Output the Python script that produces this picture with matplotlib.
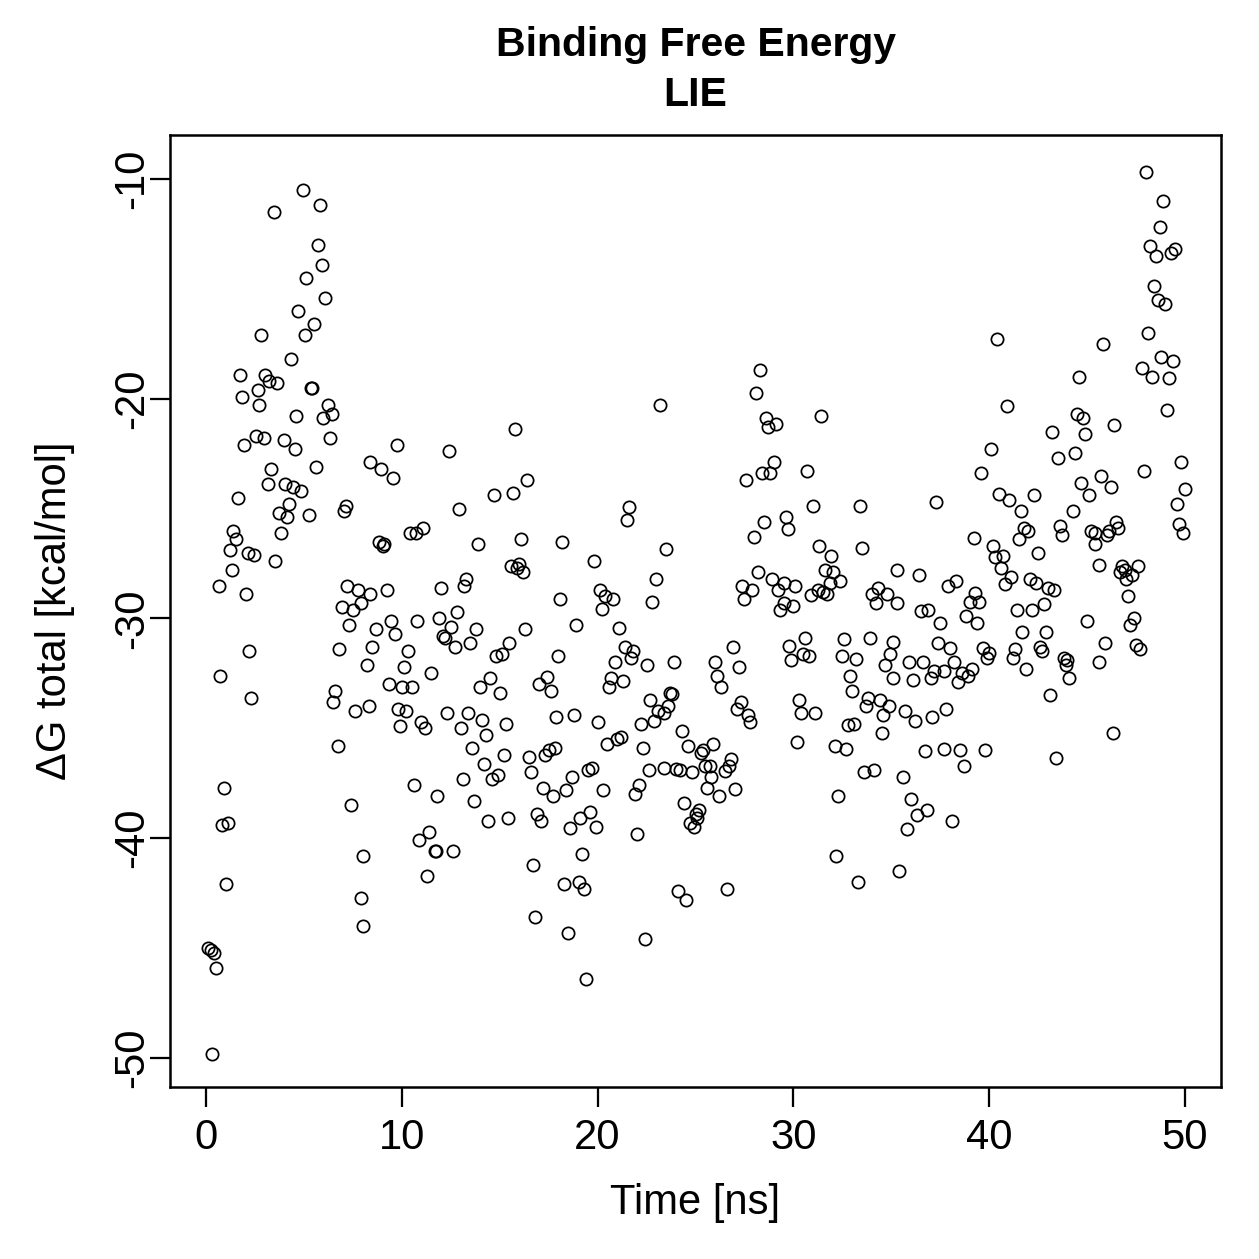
import matplotlib
matplotlib.use("Agg")
import matplotlib.pyplot as plt

plt.rcParams['font.family'] = ['Liberation Sans', 'DejaVu Sans']

# (time [ns], dG total [kcal/mol]), grouped by time window
pts_0_8 = [
    (0.12, -45.0), (0.24, -45.1), (0.42, -45.2), (0.53, -45.9), (0.32, -49.8),
    (0.65, -28.5), (0.70, -32.6), (0.94, -37.7), (0.83, -39.4), (1.14, -39.3),
    (1.02, -42.1), (2.20, -31.5), (2.30, -33.6), (6.80, -31.4), (6.60, -33.3),
    (6.50, -33.8), (7.60, -34.2), (6.74, -35.8), (7.40, -38.5), (8.00, -40.8),
    (7.90, -42.7), (8.00, -44.0), (6.94, -29.5), (7.50, -29.6), (7.90, -29.3),
    (7.30, -30.3), (8.20, -32.1), (4.93, -10.5), (5.83, -11.2), (3.45, -11.5),
    (5.73, -13.0), (5.94, -13.9), (5.12, -14.5), (6.10, -15.4), (4.72, -16.0),
    (5.53, -16.6), (5.03, -17.1), (2.81, -17.1), (4.33, -18.2), (1.74, -18.9),
    (3.02, -18.9), (3.24, -19.2), (3.65, -19.3), (5.36, -19.5), (5.40, -19.5),
    (2.64, -19.6), (1.83, -19.9), (2.73, -20.3), (6.24, -20.3), (6.45, -20.7),
    (6.00, -20.9), (4.62, -20.8), (6.35, -21.8), (1.94, -22.1), (2.54, -21.7),
    (2.97, -21.8), (3.96, -21.9), (4.54, -22.3), (3.34, -23.2), (5.63, -23.1),
    (3.14, -23.9), (4.04, -23.9), (4.44, -24.0), (4.85, -24.2), (1.64, -24.5),
    (4.23, -24.8), (3.74, -25.2), (4.13, -25.4), (5.24, -25.3), (7.03, -25.1),
    (7.13, -24.9), (3.84, -26.1), (1.40, -26.0), (1.54, -26.4), (1.23, -26.9),
    (2.12, -27.0), (2.47, -27.1), (3.53, -27.4), (1.33, -27.8), (2.03, -28.9),
    (7.22, -28.5), (7.76, -28.7), (8.40, -28.9),
]

pts_8_17 = [
    (8.4, -22.9), (15.8, -21.4), (9.74, -22.1), (12.4, -22.4), (8.94, -23.2),
    (9.53, -23.6), (16.4, -23.7), (14.7, -24.4), (15.7, -24.3), (12.9, -25.0),
    (10.4, -26.1), (10.7, -26.1), (11.1, -25.9), (8.85, -26.5), (9.07, -26.6),
    (9.02, -26.7), (13.9, -26.6), (16.1, -26.4), (15.6, -27.6), (15.9, -27.7),
    (16.0, -27.5), (16.2, -27.9), (13.3, -28.2), (13.2, -28.5), (12.0, -28.6),
    (9.23, -28.7), (12.8, -29.7), (9.45, -30.1), (8.7, -30.5), (9.64, -30.7),
    (10.8, -30.1), (11.9, -30.0), (12.5, -30.4), (13.8, -30.5), (16.3, -30.5),
    (12.1, -30.8), (12.2, -30.9), (12.7, -31.3), (13.5, -31.1), (15.5, -31.1),
    (14.8, -31.7), (15.1, -31.6), (8.5, -31.3), (10.3, -31.5), (10.1, -32.2),
    (11.5, -32.5), (14.5, -32.7), (9.33, -33.0), (10.0, -33.1), (10.5, -33.1),
    (14.0, -33.1), (15.0, -33.4), (17.0, -33.0), (8.34, -34.0), (9.8, -34.1),
    (10.2, -34.2), (9.9, -34.9), (11.0, -34.7), (11.2, -35.0), (12.3, -34.3),
    (13.4, -34.3), (14.1, -34.6), (13.0, -35.0), (14.3, -35.3), (15.3, -34.8),
    (13.6, -35.9), (15.2, -36.2), (14.2, -36.6), (14.9, -37.1), (14.6, -37.3),
    (16.5, -36.3), (16.6, -37.0), (13.1, -37.3), (10.6, -37.6), (11.8, -38.1),
    (13.7, -38.3), (14.4, -39.2), (15.4, -39.1), (16.9, -38.9), (17.1, -39.2),
    (11.4, -39.7), (10.9, -40.1), (11.67, -40.6), (11.75, -40.6), (12.6, -40.6),
    (11.3, -41.7), (16.7, -41.2), (16.8, -43.6),
]

pts_17_26 = [
    (23.2, -20.3), (21.6, -24.95), (21.5, -25.5), (18.2, -26.5), (23.5, -26.85),
    (19.8, -27.4), (23.0, -28.2), (18.1, -29.1), (20.1, -28.7), (20.4, -29.0),
    (20.8, -29.1), (20.2, -29.55), (22.8, -29.25), (18.9, -30.3), (21.1, -30.45),
    (18.0, -31.7), (21.4, -31.3), (21.8, -31.5), (21.7, -31.8), (20.9, -32.0),
    (22.5, -32.1), (23.9, -32.0), (26.0, -32.0), (26.1, -32.6), (17.4, -32.65),
    (20.7, -32.7), (21.3, -32.85), (17.6, -33.3), (20.6, -33.1), (26.3, -33.1),
    (22.7, -33.7), (23.7, -33.4), (23.8, -33.45), (23.6, -34.0), (23.1, -34.2),
    (23.4, -34.3), (22.9, -34.65), (22.2, -34.8), (17.9, -34.5), (18.8, -34.4),
    (20.0, -34.7), (24.3, -35.1), (20.5, -35.7), (21.0, -35.5), (21.2, -35.4),
    (22.3, -35.9), (24.6, -35.8), (25.9, -35.7), (25.3, -36.1), (25.4, -36.0),
    (17.3, -36.2), (17.5, -36.0), (17.8, -35.9), (19.5, -36.9), (19.7, -36.8),
    (18.7, -37.2), (22.6, -36.9), (23.4, -36.8), (24.0, -36.85), (24.2, -36.9),
    (24.8, -37.0), (25.5, -36.7), (25.75, -36.7), (25.8, -37.2), (17.2, -37.7),
    (17.7, -38.1), (18.4, -37.8), (20.3, -37.8), (22.1, -37.6), (21.9, -38.0),
    (25.6, -37.7), (26.2, -38.1), (24.4, -38.4), (25.2, -38.7), (25.0, -38.9),
    (25.1, -39.1), (24.7, -39.3), (24.9, -39.5), (19.6, -38.8), (19.1, -39.1),
    (18.6, -39.55), (19.9, -39.5), (22.0, -39.8), (19.2, -40.7), (18.3, -42.1),
    (19.05, -42.0), (19.3, -42.3), (24.1, -42.4), (24.5, -42.8), (18.5, -44.3),
    (22.4, -44.6), (19.4, -46.4),
]

pts_26_35 = [
    (28.3, -18.7), (28.1, -19.75), (31.4, -20.8), (28.6, -20.9), (28.7, -21.3),
    (29.1, -21.15), (30.7, -23.3), (29.0, -22.9), (28.4, -23.4), (28.8, -23.4),
    (27.6, -23.7), (31.0, -24.9), (33.4, -24.9), (28.5, -25.6), (29.6, -25.4),
    (29.7, -25.95), (28.0, -26.3), (31.3, -26.7), (31.9, -27.15), (33.5, -26.8),
    (28.2, -27.9), (28.9, -28.2), (29.5, -28.4), (29.2, -28.7), (30.1, -28.5),
    (27.4, -28.5), (27.9, -28.7), (27.5, -29.1), (31.6, -27.8), (32.0, -27.9),
    (32.4, -28.3), (31.85, -28.4), (31.25, -28.7), (31.5, -28.8), (30.9, -28.95),
    (31.7, -28.9), (29.5, -29.3), (29.3, -29.6), (30.0, -29.45), (35.3, -27.8),
    (34.0, -28.9), (34.3, -28.6), (34.2, -29.3), (34.8, -28.9), (35.3, -29.3),
    (26.9, -31.3), (27.2, -32.2), (29.8, -31.25), (30.6, -30.9), (30.5, -31.6),
    (30.8, -31.7), (29.9, -31.9), (32.6, -30.95), (33.9, -30.9), (32.5, -31.7),
    (33.2, -31.85), (32.9, -32.6), (35.1, -31.05), (34.95, -31.6), (34.7, -32.1),
    (27.3, -33.8), (27.1, -34.1), (27.7, -34.4), (27.8, -34.7), (30.3, -33.7),
    (30.4, -34.3), (31.1, -34.3), (35.1, -32.7), (33.0, -33.3), (33.8, -33.6),
    (33.7, -34.0), (34.4, -33.7), (34.9, -34.0), (34.6, -34.4), (32.8, -34.85),
    (33.1, -34.8), (34.5, -35.2), (30.2, -35.6), (32.1, -35.8), (32.7, -35.95),
    (26.8, -36.4), (26.7, -36.7), (26.5, -36.95), (27.0, -37.75), (33.6, -37.0),
    (34.1, -36.9), (32.3, -38.1), (32.2, -40.8), (33.3, -42.0), (26.6, -42.3),
    (35.4, -41.5),
]

pts_35_44 = [
    (40.4, -17.3), (40.9, -20.35), (43.2, -21.5), (43.5, -22.7), (44.4, -22.45),
    (40.1, -22.3), (39.6, -23.4), (37.3, -24.7), (40.5, -24.35), (41.0, -24.6),
    (41.6, -25.1), (42.3, -24.4), (44.3, -25.1), (41.8, -25.9), (42.0, -26.0),
    (41.5, -26.4), (43.6, -25.8), (43.7, -26.2), (39.2, -26.35), (40.2, -26.7),
    (40.7, -27.15), (40.3, -27.2), (42.5, -27.0), (40.6, -27.7), (41.1, -28.1),
    (40.8, -28.45), (42.1, -28.2), (42.4, -28.4), (43.0, -28.6), (43.3, -28.7),
    (36.4, -28.0), (37.9, -28.5), (38.3, -28.3), (39.3, -28.85), (39.0, -29.25),
    (39.5, -29.25), (36.5, -29.65), (36.9, -29.6), (37.5, -30.2), (38.8, -29.9),
    (39.4, -30.2), (41.4, -29.6), (42.2, -29.6), (42.8, -29.35), (41.7, -30.6),
    (42.9, -30.6), (37.4, -31.1), (38.0, -31.35), (38.2, -32.0), (35.9, -32.0),
    (36.6, -32.0), (37.2, -32.4), (37.7, -32.4), (39.7, -31.35), (40.0, -31.55),
    (39.9, -31.8), (41.3, -31.4), (41.2, -31.8), (42.6, -31.3), (42.7, -31.5),
    (43.8, -31.8), (43.95, -31.9), (43.9, -32.1), (41.9, -32.3), (39.1, -32.3),
    (38.6, -32.5), (38.9, -32.6), (36.1, -32.8), (37.05, -32.7), (44.1, -32.7),
    (38.4, -32.9), (43.1, -33.5), (35.7, -34.2), (36.2, -34.65), (37.1, -34.5),
    (37.8, -34.1), (36.7, -36.05), (37.7, -35.95), (38.5, -36.0), (39.8, -36.0),
    (38.7, -36.7), (43.4, -36.35), (35.6, -37.2), (36.0, -38.2), (36.8, -38.7),
    (36.3, -38.95), (35.8, -39.6), (38.1, -39.2),
]

pts_44_50 = [
    (48.0, -9.7), (48.9, -11.0), (48.7, -12.2), (48.2, -13.05), (48.5, -13.5),
    (49.3, -13.35), (49.5, -13.2), (48.4, -14.85), (48.6, -15.5), (49.0, -15.7),
    (48.1, -17.0), (45.8, -17.5), (48.8, -18.1), (49.4, -18.3), (47.8, -18.6),
    (48.3, -19.0), (49.2, -19.05), (44.6, -19.0), (49.1, -20.5), (44.5, -20.7),
    (44.8, -20.9), (44.9, -21.6), (46.4, -21.2), (49.8, -22.9), (47.9, -23.3),
    (45.7, -23.5), (46.2, -24.0), (44.7, -23.85), (45.1, -24.4), (50.0, -24.1),
    (49.6, -24.8), (49.7, -25.7), (49.9, -26.1), (45.2, -26.0), (45.4, -26.1),
    (45.4, -26.6), (46.1, -26.0), (46.0, -26.2), (46.5, -25.6), (46.6, -25.9),
    (45.6, -27.55), (46.8, -27.6), (46.95, -27.8), (46.7, -27.9), (47.3, -28.0),
    (47.0, -28.2), (47.6, -27.6), (47.1, -29.0), (45.0, -30.1), (47.4, -30.0),
    (47.2, -30.3), (45.9, -31.1), (47.5, -31.2), (47.7, -31.4), (45.6, -32.0),
    (46.3, -35.2),
]

x_ticks = [0, 10, 20, 30, 40, 50]
y_ticks = [-50, -40, -30, -20, -10]

points = pts_0_8 + pts_8_17 + pts_17_26 + pts_26_35 + pts_35_44 + pts_44_50
time_ns = [p[0] for p in points]
dg_total = [p[1] for p in points]

W = 1259
fig = plt.figure(figsize=(W / 180, W / 180), dpi=180)
ax = fig.add_axes([170 / W, 1 - 1087 / W, (1221 - 170) / W, (1087 - 135) / W])

ax.plot(time_ns, dg_total, 'o', ls='none', mfc='none', mec='black',
        ms=4.9, mew=0.7)

ax.set_xlim(-1.84, 51.84)
ax.set_ylim(-51.32, -8.0)
ax.set_xticks(x_ticks)
ax.set_yticks(y_ticks)
ax.set_xticklabels([str(v) for v in x_ticks])
ax.set_yticklabels([str(v) for v in y_ticks], rotation=90, va='center')
ax.tick_params(direction='out', length=8, width=0.9, labelsize=16.7, color='black')
ax.tick_params(axis='x', pad=4.5)
ax.tick_params(axis='y', pad=-1)
for s in ax.spines.values():
    s.set_linewidth(1.0)

cx = (170 + 1221) / 2 / W
fig.text(cx, 1 - 45 / W, 'Binding Free Energy', ha='center', va='center',
         fontsize=16.4, fontweight='bold')
fig.text(cx, 1 - 95 / W, 'LIE', ha='center', va='center',
         fontsize=16.4, fontweight='bold')
fig.text(cx, 1 - 1203 / W, 'Time [ns]', ha='center', va='center', fontsize=16.7)
fig.text(55 / W, 1 - 611 / W, '\u0394G total [kcal/mol]', ha='center',
         va='center', rotation=90, fontsize=16.7)

fig.savefig('out.png', dpi=180)
